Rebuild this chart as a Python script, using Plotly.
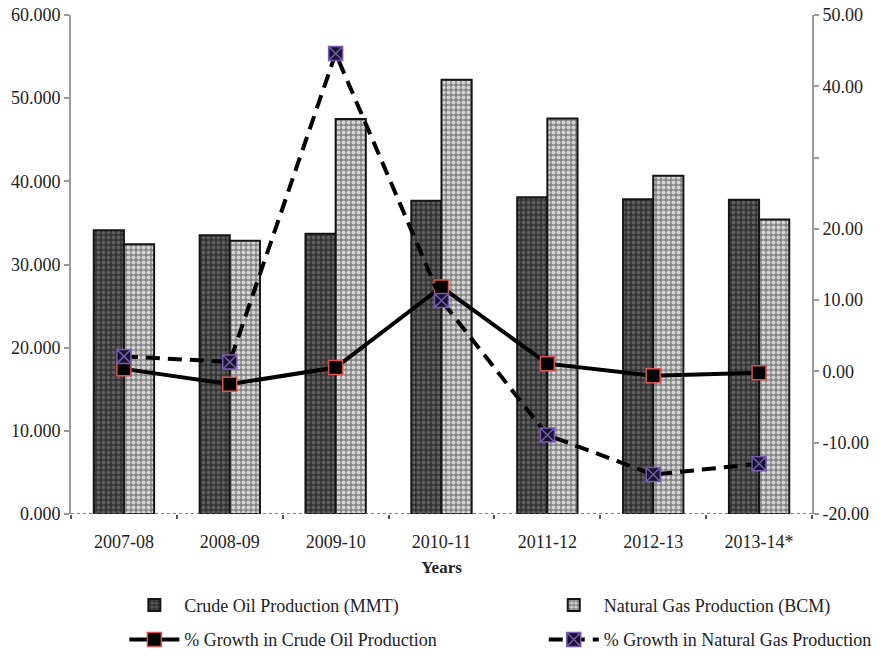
import plotly.graph_objects as go

# Production and growth figures by financial year
years = ["2007-08", "2008-09", "2009-10", "2010-11", "2011-12", "2012-13", "2013-14*"]
crude_oil_mmt = [34.12, 33.51, 33.69, 37.68, 38.09, 37.86, 37.79]
natural_gas_bcm = [32.42, 32.85, 47.50, 52.22, 47.56, 40.68, 35.41]
crude_growth_pct = [0.36, -1.79, 0.54, 11.84, 1.09, -0.60, -0.18]
gas_growth_pct = [2.11, 1.33, 44.60, 9.94, -8.92, -14.47, -12.95]

right_ticks = [-20, -10, 0, 10, 20, 30, 40, 50]
right_labels = ["-20.00", "-10.00", "0.00", "10.00", "20.00", "", "40.00", "50.00"]

FONT = "Liberation Serif"
AXIS_GREY = "#9a9a9a"

fig = go.Figure()

fig.add_trace(go.Bar(
    x=years, y=crude_oil_mmt, name="Crude Oil Production (MMT)",
    legend="legend", legendgroup="a",
    marker=dict(
        color="#3a3a3a",
        line=dict(color="#151515", width=2),
        pattern=dict(shape=".", fillmode="replace", bgcolor="#333333",
                     fgcolor="#5e5e5e", size=5, solidity=0.45),
    ),
))
fig.add_trace(go.Bar(
    x=years, y=natural_gas_bcm, name="Natural Gas Production (BCM)",
    legend="legend2", legendgroup="b",
    marker=dict(
        color="#a0a0a0",
        line=dict(color="#151515", width=2),
        pattern=dict(shape=".", fillmode="replace", bgcolor="#858585",
                     fgcolor="#d4d4d4", size=5, solidity=0.5),
    ),
))
fig.add_trace(go.Scatter(
    x=years, y=crude_growth_pct, yaxis="y2", mode="lines+markers",
    name="% Growth in Crude Oil Production",
    legend="legend", legendgroup="c",
    line=dict(color="#000000", width=4),
    marker=dict(symbol="square", size=14, color="#050505",
                line=dict(color="#d9534f", width=1.5)),
))
fig.add_trace(go.Scatter(
    x=years, y=gas_growth_pct, yaxis="y2", mode="lines+markers",
    name="% Growth in Natural Gas Production",
    legend="legend2", legendgroup="d",
    line=dict(color="#000000", width=4, dash="14px,8px"),
    marker=dict(symbol="square-x", size=14, color="#15152a",
                line=dict(color="#7a5ab0", width=1.5)),
))

legend_common = dict(
    orientation="v", yanchor="top", xanchor="left",
    font=dict(family=FONT, size=18, color="#222222"),
    tracegroupgap=8, itemwidth=50, bgcolor="rgba(0,0,0,0)",
)

fig.update_layout(
    width=892, height=660,
    margin=dict(l=71, r=80, t=15, b=146, autoexpand=False),
    paper_bgcolor="white", plot_bgcolor="white",
    font=dict(family=FONT, size=18, color="#222222"),
    barmode="group", bargap=0.43, bargroupgap=0,
    legend=dict(x=0.072, y=-0.146, **legend_common),
    legend2=dict(x=0.638, y=-0.146, **legend_common),
    xaxis=dict(
        type="category",
        showline=False, showgrid=False, zeroline=False,
        ticks="outside", tickson="boundaries", ticklen=4,
        tickcolor="#555555", tickwidth=1.5, ticklabelstandoff=15,
        title=dict(text="<b>Years</b>", standoff=10,
                   font=dict(family=FONT, size=17, color="#222222")),
    ),
    yaxis=dict(
        range=[0, 60], dtick=10, tickformat=".3f",
        showgrid=False, zeroline=False,
        showline=True, linecolor=AXIS_GREY, linewidth=2,
        ticks="outside", ticklen=5, tickcolor=AXIS_GREY, tickwidth=1.5,
    ),
    yaxis2=dict(
        range=[-20, 50], overlaying="y", side="right",
        tickvals=right_ticks, ticktext=right_labels,
        showgrid=False, zeroline=False,
        showline=True, linecolor=AXIS_GREY, linewidth=2,
        ticks="outside", ticklen=5, tickcolor=AXIS_GREY, tickwidth=1.5,
    ),
    shapes=[dict(
        type="line", xref="paper", yref="y", x0=0, x1=1, y0=0, y1=0,
        line=dict(color="#555555", width=1.5, dash="dot"), layer="above",
    )],
)

fig.write_html("out.html")
